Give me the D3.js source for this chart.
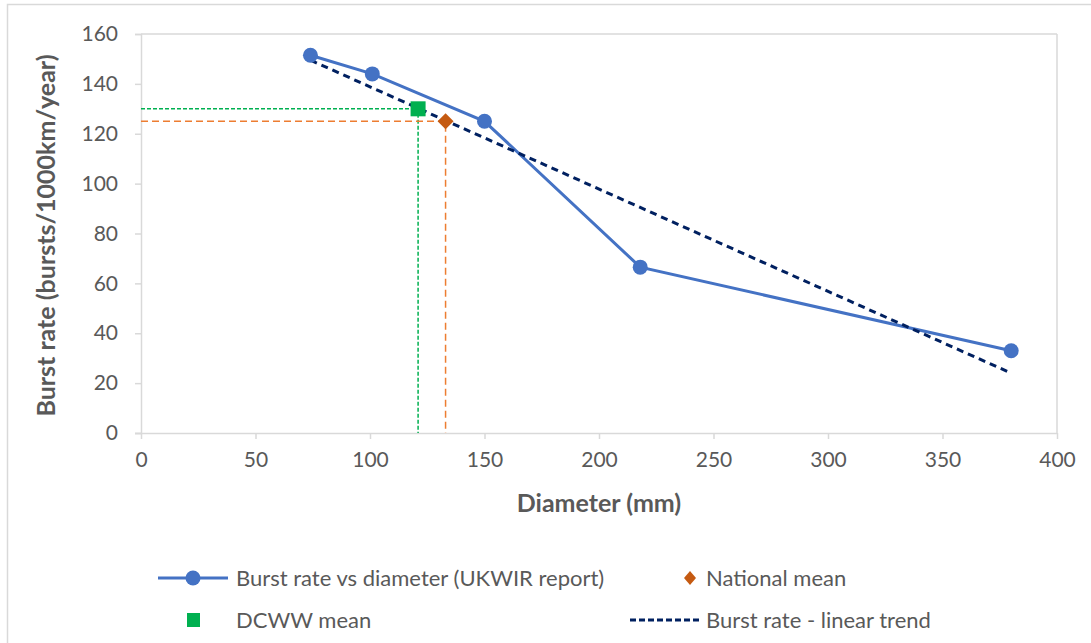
<!DOCTYPE html>
<html><head><meta charset="utf-8">
<script src="https://cdn.jsdelivr.net/npm/d3@7"></script>
<style>body{margin:0;background:#fff;} svg{display:block;font-family:Lato, 'Open Sans', sans-serif;}</style>
</head><body>
<svg id="c" width="1091" height="643"></svg>
<script>
const diameters = [74, 101, 150, 218, 380];
const burstRates = [151.5, 144, 125, 66.5, 33];
const dcwwMean = [121, 130];
const nationalMean = [133, 125];
const trendX = [74, 380];
const trendY = [149.5, 24];
const xTicks = [0, 50, 100, 150, 200, 250, 300, 350, 400];
const yTicks = [0, 20, 40, 60, 80, 100, 120, 140, 160];
const legendLabels = ["Burst rate vs diameter (UKWIR report)", "National mean", "DCWW mean", "Burst rate - linear trend"];

const svg = d3.select("#c");
const x = d3.scaleLinear().domain([0, 400]).range([141, 1057]);
const y = d3.scaleLinear().domain([0, 160]).range([433, 34]);
const grey = "#D9D9D9", txt = "#595959";

// outer chart border
svg.append("rect").attr("x", 7.5).attr("y", 4.5).attr("width", 1200).attr("height", 800)
  .attr("fill", "none").attr("stroke", grey).attr("stroke-width", 1.5);

// plot frame top/right
svg.append("line").attr("x1", x(0)).attr("x2", x(400)).attr("y1", y(160)).attr("y2", y(160)).attr("stroke", grey).attr("stroke-width", 1.5);
svg.append("line").attr("x1", x(400)).attr("x2", x(400)).attr("y1", y(160)).attr("y2", y(0)).attr("stroke", grey).attr("stroke-width", 1.5);

const xAxis = svg.append("g").attr("transform", `translate(0,${y(0)})`)
  .call(d3.axisBottom(x).tickValues(xTicks).tickSize(6).tickPadding(13));
const yAxis = svg.append("g").attr("transform", `translate(${x(0)},0)`)
  .call(d3.axisLeft(y).tickValues(yTicks).tickSize(6).tickPadding(17));
[xAxis, yAxis].forEach(a => {
  a.select(".domain").attr("stroke", grey).attr("stroke-width", 1.5);
  a.selectAll(".tick line").attr("stroke", grey).attr("stroke-width", 1.5);
  a.selectAll(".tick text").attr("fill", txt).style("font-size", "21px").style("font-family", "Lato, sans-serif");
});
xAxis.select(".domain").attr("d", `M${x(0)-6},0.5H${x(400)}`);

// axis titles
svg.append("text").attr("x", 599).attr("y", 512).attr("text-anchor", "middle")
  .attr("fill", txt).style("font-size", "25px").style("font-weight", "bold").text("Diameter (mm)");
svg.append("text").attr("transform", `translate(55,${(y(0)+y(160))/2 + 2}) rotate(-90)`).attr("text-anchor", "middle")
  .attr("fill", txt).style("font-size", "25px").style("font-weight", "bold").text("Burst rate (bursts/1000km/year)");

// reference dashed lines
function refLines(pt, color, dash) {
  svg.append("path").attr("d", `M${x(0)},${y(pt[1])}H${x(pt[0])}V${y(0)}`)
    .attr("fill", "none").attr("stroke", color).attr("stroke-width", 1.5).attr("stroke-dasharray", dash);
}
refLines(dcwwMean, "#00B050", "4,2");
refLines(nationalMean, "#ED7D31", "7,4");

// main series
const pts = diameters.map((d, i) => [d, burstRates[i]]);
svg.append("path").datum(pts).attr("d", d3.line().x(d => x(d[0])).y(d => y(d[1])))
  .attr("fill", "none").attr("stroke", "#4472C4").attr("stroke-width", 3);

// trend
const tpts = trendX.map((d, i) => [d, trendY[i]]);
svg.append("path").datum(tpts).attr("d", d3.line().x(d => x(d[0])).y(d => y(d[1])))
  .attr("fill", "none").attr("stroke", "#002060").attr("stroke-width", 3).attr("stroke-dasharray", "7,5");

svg.selectAll(".pt").data(pts).join("circle").attr("cx", d => x(d[0])).attr("cy", d => y(d[1]))
  .attr("r", 7.5).attr("fill", "#4472C4");

// markers
svg.append("rect").attr("x", x(dcwwMean[0]) - 7.5).attr("y", y(dcwwMean[1]) - 7.5).attr("width", 15).attr("height", 15).attr("fill", "#00B050");
svg.append("path").attr("transform", `translate(${x(nationalMean[0])},${y(nationalMean[1])})`)
  .attr("d", "M0,-8L8,0L0,8L-8,0Z").attr("fill", "#C55A11");

// legend
const lg = svg.append("g").style("font-size", "22px").attr("fill", txt);
const r1 = 578, r2 = 620;
lg.append("line").attr("x1", 158).attr("x2", 228).attr("y1", r1).attr("y2", r1).attr("stroke", "#4472C4").attr("stroke-width", 3);
lg.append("circle").attr("cx", 193).attr("cy", r1).attr("r", 7.5).attr("fill", "#4472C4");
lg.append("text").attr("x", 236).attr("y", r1).attr("dy", "0.35em").text(legendLabels[0]);
lg.append("path").attr("transform", `translate(690,${r1})`).attr("d", "M0,-7L6,0L0,7L-6,0Z").attr("fill", "#C55A11");
lg.append("text").attr("x", 706).attr("y", r1).attr("dy", "0.35em").text(legendLabels[1]);
lg.append("rect").attr("x", 187).attr("y", r2 - 7).attr("width", 13).attr("height", 14).attr("fill", "#00B050");
lg.append("text").attr("x", 236).attr("y", r2).attr("dy", "0.35em").text(legendLabels[2]);
lg.append("line").attr("x1", 630).attr("x2", 700).attr("y1", r2).attr("y2", r2).attr("stroke", "#002060").attr("stroke-width", 3).attr("stroke-dasharray", "6,3");
lg.append("text").attr("x", 706).attr("y", r2).attr("dy", "0.35em").text(legendLabels[3]);
</script>
</body></html>
